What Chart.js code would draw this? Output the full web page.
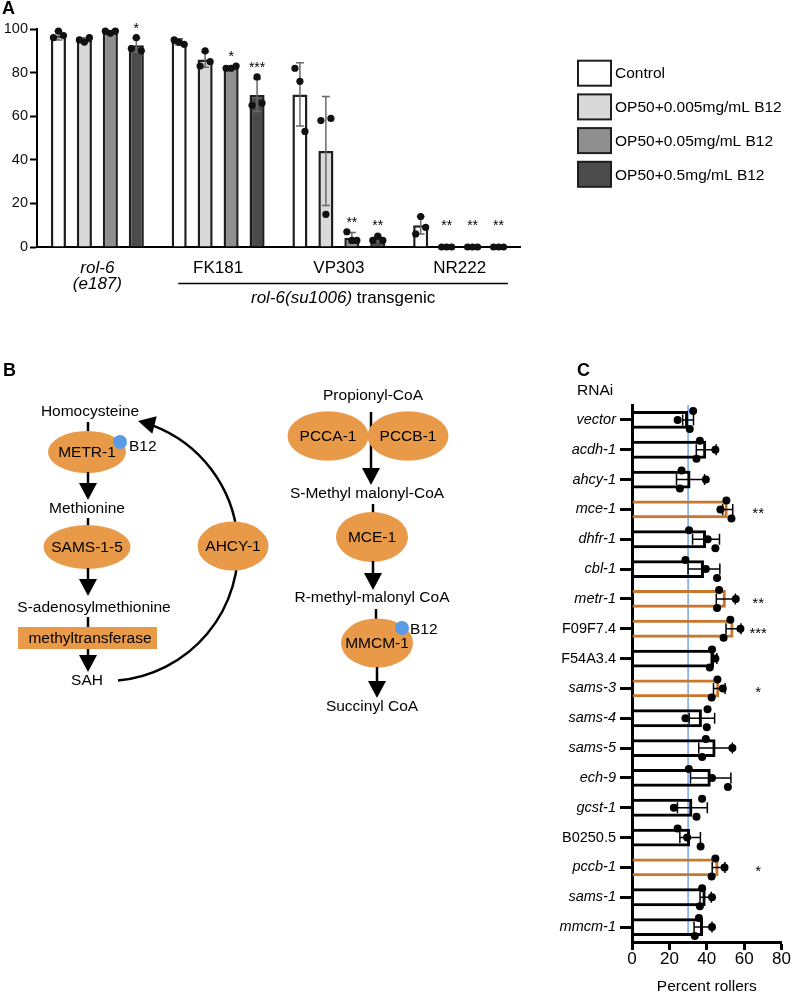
<!DOCTYPE html>
<html>
<head>
<meta charset="utf-8">
<script src="https://cdn.jsdelivr.net/npm/chart.js@4.4.1/dist/chart.umd.min.js"></script>
<style>
  body { margin: 0; background: #fff; }
  #page { position: relative; width: 792px; height: 994px; overflow: hidden; background: #fff; }
  canvas { position: absolute; }
</style>
</head>
<body>
<div id="page">
  <canvas id="chartA" width="792" height="310" style="left:0;top:0"></canvas>
  <canvas id="pathway" width="540" height="390" style="left:0;top:340px"></canvas>
  <canvas id="chartC" width="252" height="654" style="left:540px;top:340px"></canvas>
</div>
<script>
const FONT = "'Liberation Sans', Arial, Helvetica, sans-serif";
Chart.defaults.font.family = FONT;
Chart.defaults.color = '#000';

// ---- panel A data: % rollers per strain and B12 dose
const strains = [['rol-6', '(e187)'], 'FK181', 'VP303', 'NR222'];
const doses = ['Control', 'OP50+0.005mg/mL B12', 'OP50+0.05mg/mL B12', 'OP50+0.5mg/mL B12'];
const meanControl = [97, 94, 70, 10];
const meanLow = [95, 86, 44, 0];
const meanMid = [98.5, 82.3, 4.3, 0];
const meanHigh = [92.5, 69.7, 3.7, 0];
const sdControl = [2, 1.5, 14.5, 4];
const sdLow = [1, 3.5, 25, 0];
const sdMid = [0.5, 0.5, 2.3, 0];
const sdHigh = [3.2, 7.5, 1, 0];
const repsControl = [[96, 99, 97], [95, 94, 93], [82, 76, 53], [6, 14, 9]];
const repsLow = [[95, 94, 96], [83, 90, 85], [58, 15, 59], [0, 0, 0]];
const repsMid = [[99, 98, 99], [82, 82, 83], [7, 3, 3], [0, 0, 0]];
const repsHigh = [[91, 96, 90], [65, 78, 66], [3, 5, 3], [0, 0, 0]];
const starsControl = ['', '', '', ''];
const starsLow = ['', '', '', '**'];
const starsMid = ['', '*', '**', '**'];
const starsHigh = ['*', '***', '**', '**'];

// ---- panel C data: % rollers per RNAi clone
const genes = ['vector', 'acdh-1', 'ahcy-1', 'mce-1', 'dhfr-1', 'cbl-1', 'metr-1', 'F09F7.4', 'F54A3.4',
  'sams-3', 'sams-4', 'sams-5', 'ech-9', 'gcst-1', 'B0250.5', 'pccb-1', 'sams-1', 'mmcm-1'];
const rollers = [30, 39.7, 31.3, 51.2, 39.6, 38.5, 50.2, 54.3, 43.9, 46.7, 37.4, 44.7, 42.1, 32.3, 31.1, 46.3, 39.4, 38];
const rollersSd = [2.9, 5.3, 7.5, 2.7, 7.2, 8.5, 5.1, 4, 1.5, 3.1, 6.8, 9, 10.8, 8, 5.5, 3.4, 3, 4.8];
const rollerReps = [[32.7, 24.4, 30.9], [36.3, 44.6, 34.5], [26.5, 39.5, 25.6], [50.5, 47.3, 53.2],
  [30.5, 40.5, 44.6], [28.6, 39.5, 45.5], [46.6, 55.5, 45.5], [52.6, 58, 49], [42.8, 44.6, 41.6],
  [45.7, 48.6, 42.6], [40.4, 28.6, 40], [39.5, 53.7, 37.5], [30.4, 42.8, 51.3], [37.5, 22.4, 34.5],
  [24.4, 29.5, 36.7], [44.6, 49.5, 42.6], [37.5, 42.8, 36.3], [35.8, 42.8, 33.6]];
const rollerStars = ['', '', '', '**', '', '', '**', '***', '', '*', '', '', '', '', '', '*', '', ''];
const hitClones = ['mce-1', 'metr-1', 'F09F7.4', 'sams-3', 'pccb-1'];

// styles
const doseColors = ['#ffffff', '#d9d9d9', '#8f8f8f', '#4b4b4b'];
const ORANGE = '#e99a49';
const HIT = '#c8772c';
const BLUE = '#5a9be6';
const jitterA = [-5, 0, 5];     // px, spread of replicate dots across a bar
const jitterC = [-9, 0, 9];     // px, spread of replicate dots along a bar

// ---------------- panel A ----------------
const means = [meanControl, meanLow, meanMid, meanHigh];
const sds = [sdControl, sdLow, sdMid, sdHigh];
const reps = [repsControl, repsLow, repsMid, repsHigh];
const stars = [starsControl, starsLow, starsMid, starsHigh];

const panelA = {
  id: 'panelA',
  afterDatasetDraw(chart, args) {
    const ds = chart.data.datasets[args.index];
    const ctx = chart.ctx, y = chart.scales.y;
    ctx.save();
    ctx.strokeStyle = '#6a6a6a';
    ctx.lineWidth = 1.5;
    args.meta.data.forEach((bar, j) => {
      const sd = ds.sd[j];
      if (!sd) return;
      const top = y.getPixelForValue(ds.data[j] + sd);
      const bot = y.getPixelForValue(Math.max(0, ds.data[j] - sd));
      ctx.beginPath();
      ctx.moveTo(bar.x, top); ctx.lineTo(bar.x, bot);
      ctx.moveTo(bar.x - 4, top); ctx.lineTo(bar.x + 4, top);
      ctx.moveTo(bar.x - 4, bot); ctx.lineTo(bar.x + 4, bot);
      ctx.stroke();
    });
    ctx.restore();
  },
  afterDatasetsDraw(chart) {
    const ctx = chart.ctx, y = chart.scales.y;
    ctx.save();
    ctx.fillStyle = '#111';
    chart.data.datasets.forEach((ds, i) => {
      chart.getDatasetMeta(i).data.forEach((bar, j) => {
        ds.reps[j].forEach((v, r) => {
          ctx.beginPath();
          ctx.arc(bar.x + jitterA[r], y.getPixelForValue(v), 3.6, 0, Math.PI * 2);
          ctx.fill();
        });
      });
    });
    ctx.restore();
  },
  afterDraw(chart) {
    const ctx = chart.ctx, x = chart.scales.x, y = chart.scales.y;
    ctx.save();
    // significance marks
    ctx.fillStyle = '#000';
    ctx.textAlign = 'center';
    ctx.textBaseline = 'alphabetic';
    ctx.font = `14px ${FONT}`;
    chart.data.datasets.forEach((ds, i) => {
      chart.getDatasetMeta(i).data.forEach((bar, j) => {
        if (!ds.stars[j]) return;
        const top = Math.max(ds.data[j] + ds.sd[j], ...ds.reps[j]);
        const yc = Math.min(y.getPixelForValue(top) - 13, y.getPixelForValue(0) - 25);
        ctx.fillText(ds.stars[j], bar.x, yc + 8);
      });
    });
    // bracket under the transgenic strains
    const w = x.getPixelForValue(1) - x.getPixelForValue(0);
    const x0 = x.getPixelForValue(1) - 0.33 * w, x1 = x.getPixelForValue(3) + 0.4 * w;
    ctx.strokeStyle = '#000';
    ctx.lineWidth = 1.5;
    ctx.beginPath(); ctx.moveTo(x0, 283.5); ctx.lineTo(x1, 283.5); ctx.stroke();
    ctx.font = `italic 17px ${FONT}`;
    const a = 'rol-6(su1006)';
    const wa = ctx.measureText(a).width;
    ctx.font = `17px ${FONT}`;
    const b = ' transgenic';
    const wb = ctx.measureText(b).width;
    const sx = (x0 + x1) / 2 - (wa + wb) / 2;
    ctx.textAlign = 'left';
    ctx.textBaseline = 'middle';
    ctx.font = `italic 17px ${FONT}`;
    ctx.fillText(a, sx, 298);
    ctx.font = `17px ${FONT}`;
    ctx.fillText(b, sx + wa, 298);
    // legend
    ctx.font = `15.5px ${FONT}`;
    chart.data.datasets.forEach((ds, i) => {
      const yc = 73.2 + i * 33.7;
      ctx.fillStyle = ds.backgroundColor;
      ctx.fillRect(578, yc - 12.5, 33, 25);
      ctx.strokeStyle = '#1e1e1e';
      ctx.lineWidth = 2;
      ctx.strokeRect(578, yc - 12.5, 33, 25);
      ctx.fillStyle = '#000';
      ctx.fillText(ds.label, 615, yc + 1);
    });
    // panel letter
    ctx.font = `bold 18px ${FONT}`;
    ctx.textBaseline = 'alphabetic';
    ctx.fillText('A', 2, 14);
    ctx.restore();
  }
};

new Chart(document.getElementById('chartA'), {
  type: 'bar',
  data: {
    labels: strains,
    datasets: doses.map((d, i) => ({
      label: d, data: means[i], sd: sds[i], reps: reps[i], stars: stars[i],
      backgroundColor: doseColors[i], borderColor: '#1e1e1e', borderWidth: 2.5,
      categoryPercentage: 0.86, barPercentage: 0.58
    }))
  },
  options: {
    responsive: false, animation: false,
    layout: { padding: { top: 29, right: 272, left: 0, bottom: 0 } },
    plugins: { legend: { display: false }, tooltip: { enabled: false } },
    scales: {
      x: {
        type: 'category',
        grid: { display: false },
        border: { color: '#000', width: 2 },
        ticks: { color: '#000', padding: 5,
          font: c => ({ size: 17, lineHeight: 0.95, style: c.index === 0 ? 'italic' : 'normal' }) },
        afterFit: s => { s.height = 63; }
      },
      y: {
        min: 0, max: 100,
        ticks: { stepSize: 20, color: '#111', padding: 2, font: { size: 14.5 } },
        grid: { drawOnChartArea: false, tickLength: 7, tickWidth: 2, tickColor: '#000' },
        border: { color: '#000', width: 2 },
        afterFit: s => { s.width = 37; }
      }
    }
  },
  plugins: [panelA]
});

// ---------------- panel B (pathway diagram) ----------------
(function drawPathway() {
  const g = document.getElementById('pathway').getContext('2d');
  g.translate(0, -340);
  g.font = `15.5px ${FONT}`;
  const label = (s, x, y, align = 'center') => {
    g.fillStyle = '#000'; g.textAlign = align; g.textBaseline = 'middle'; g.fillText(s, x, y);
  };
  const stub = (x, y1, y2) => {
    g.strokeStyle = '#000'; g.lineWidth = 2.5; g.beginPath(); g.moveTo(x, y1); g.lineTo(x, y2); g.stroke();
  };
  const arrow = (x, y1, tip) => {
    stub(x, y1, tip - 15);
    g.fillStyle = '#000'; g.beginPath();
    g.moveTo(x - 9, tip - 17); g.lineTo(x + 9, tip - 17); g.lineTo(x, tip); g.closePath(); g.fill();
  };
  const enzyme = (s, x, y, rx, ry) => {
    g.fillStyle = ORANGE; g.beginPath(); g.ellipse(x, y, rx, ry, 0, 0, Math.PI * 2); g.fill();
    label(s, x, y + 1);
  };
  const b12 = (x, y, tx, ty) => {
    g.fillStyle = BLUE; g.beginPath(); g.arc(x, y, 7, 0, Math.PI * 2); g.fill();
    label('B12', tx, ty, 'left');
  };

  // methionine cycle
  label('Homocysteine', 90, 412);
  stub(88, 422, 433);
  enzyme('METR-1', 87, 452, 39, 21);
  b12(120, 442, 129, 446.5);
  arrow(88, 472, 500);
  label('Methionine', 87, 509);
  stub(88, 518, 527);
  enzyme('SAMS-1-5', 87, 547, 43.5, 22);
  arrow(88, 568, 596);
  label('S-adenosylmethionine', 94, 608);
  stub(88, 617, 628);
  g.fillStyle = ORANGE; g.fillRect(18, 627, 139, 22);
  label('methyltransferase', 90, 638.5);
  arrow(88, 649, 672);
  label('SAH', 87, 681);

  // SAH -> homocysteine return arc through AHCY-1
  const cx = 106, cy = 549, R = 132, tipA = -1.326;
  g.strokeStyle = '#000'; g.lineWidth = 2.5;
  g.beginPath(); g.arc(cx, cy, R, 1.48, tipA + 0.12, true); g.stroke();
  const tx = cx + R * Math.cos(tipA), ty = cy + R * Math.sin(tipA);
  const dx = Math.sin(tipA), dy = -Math.cos(tipA);
  const bx = tx - 17 * dx, by = ty - 17 * dy;
  g.fillStyle = '#000'; g.beginPath();
  g.moveTo(tx, ty); g.lineTo(bx - 9 * dy, by + 9 * dx); g.lineTo(bx + 9 * dy, by - 9 * dx); g.closePath(); g.fill();
  enzyme('AHCY-1', 233, 546, 35.5, 24.5);

  // propionyl-CoA breakdown
  label('Propionyl-CoA', 373, 396);
  arrow(371, 412, 485);
  enzyme('PCCA-1', 328, 436, 40.5, 24.7);
  enzyme('PCCB-1', 408, 436, 40.5, 24.7);
  label('S-Methyl malonyl-CoA', 367, 494);
  stub(373, 504, 513);
  enzyme('MCE-1', 372, 537, 36, 25);
  arrow(373, 561, 590);
  label('R-methyl-malonyl CoA', 372, 598);
  stub(376, 609, 620);
  enzyme('MMCM-1', 377, 643, 36, 24.5);
  b12(402, 628, 410, 629.5);
  arrow(377, 667, 698);
  label('Succinyl CoA', 372, 707);

  g.font = `bold 18px ${FONT}`;
  g.textAlign = 'left'; g.textBaseline = 'alphabetic';
  g.fillText('B', 3, 376);
})();

// ---------------- panel C ----------------
const isClone = name => /^[A-Z]\d/.test(name);

const panelC = {
  id: 'panelC',
  beforeDatasetsDraw(chart) {
    const ctx = chart.ctx, x = chart.scales.x;
    const bars = chart.getDatasetMeta(0).data;
    const last = bars[bars.length - 1];
    const px = x.getPixelForValue(rollers[0]);
    ctx.save();
    ctx.strokeStyle = BLUE; ctx.lineWidth = 1.3;
    ctx.beginPath(); ctx.moveTo(px, chart.chartArea.top); ctx.lineTo(px, last.y + last.height / 2); ctx.stroke();
    ctx.restore();
  },
  afterDatasetsDraw(chart) {
    const ds = chart.data.datasets[0];
    const ctx = chart.ctx, x = chart.scales.x;
    ctx.save();
    ctx.strokeStyle = '#000'; ctx.lineWidth = 1.5;
    ctx.fillStyle = '#000';
    chart.getDatasetMeta(0).data.forEach((bar, j) => {
      const l = x.getPixelForValue(ds.data[j] - ds.sd[j]), r = x.getPixelForValue(ds.data[j] + ds.sd[j]);
      ctx.beginPath();
      ctx.moveTo(l, bar.y); ctx.lineTo(r, bar.y);
      ctx.moveTo(l, bar.y - 5.5); ctx.lineTo(l, bar.y + 5.5);
      ctx.moveTo(r, bar.y - 5.5); ctx.lineTo(r, bar.y + 5.5);
      ctx.stroke();
      ds.reps[j].forEach((v, k) => {
        ctx.beginPath();
        ctx.arc(x.getPixelForValue(v), bar.y + jitterC[k], 4, 0, Math.PI * 2);
        ctx.fill();
      });
    });
    ctx.restore();
  },
  afterDraw(chart) {
    const ctx = chart.ctx, x = chart.scales.x;
    const bars = chart.getDatasetMeta(0).data;
    ctx.save();
    ctx.fillStyle = '#000';
    ctx.textAlign = 'center'; ctx.textBaseline = 'alphabetic';
    ctx.font = `15px ${FONT}`;
    rollerStars.forEach((s, i) => { if (s) ctx.fillText(s, x.getPixelForValue(67.5), bars[i].y + 9); });
    ctx.textAlign = 'left';
    ctx.font = `15.5px ${FONT}`;
    ctx.textBaseline = 'middle';
    ctx.fillText('RNAi', 37, 51);
    ctx.font = `bold 18px ${FONT}`;
    ctx.textBaseline = 'alphabetic';
    ctx.fillText('C', 37, 36);
    ctx.restore();
  }
};

new Chart(document.getElementById('chartC'), {
  type: 'bar',
  data: {
    labels: genes,
    datasets: [{
      data: rollers, sd: rollersSd, reps: rollerReps,
      backgroundColor: 'rgba(255,255,255,0)',
      borderColor: genes.map(gn => hitClones.includes(gn) ? HIT : '#000'),
      borderWidth: 3, categoryPercentage: 1, barPercentage: 0.6
    }]
  },
  options: {
    responsive: false, animation: false, indexAxis: 'y',
    layout: { padding: { top: 65, right: 10, left: 0, bottom: 0 } },
    plugins: { legend: { display: false }, tooltip: { enabled: false } },
    scales: {
      x: {
        type: 'linear', min: 0, max: 80,
        ticks: { stepSize: 20, color: '#000', padding: 1, font: { size: 17, lineHeight: 1 } },
        grid: { drawOnChartArea: false, tickLength: 8, tickWidth: 3, tickColor: '#000' },
        border: { color: '#000', width: 3 },
        title: { display: true, text: 'Percent rollers', color: '#000', padding: 0, font: { size: 15.5, lineHeight: 1 } },
        afterFit: s => { s.height = 52; }
      },
      y: {
        type: 'category', offset: true,
        grid: { offset: false, drawOnChartArea: false, tickLength: 12, tickWidth: 3, tickColor: '#000' },
        border: { color: '#000', width: 3 },
        ticks: { color: '#000', padding: 4, autoSkip: false,
          font: c => ({ size: 14.5, style: isClone(genes[c.index]) ? 'normal' : 'italic' }) },
        afterFit: s => { s.width = 92; }
      }
    }
  },
  plugins: [panelC]
});
</script>
</body>
</html>
